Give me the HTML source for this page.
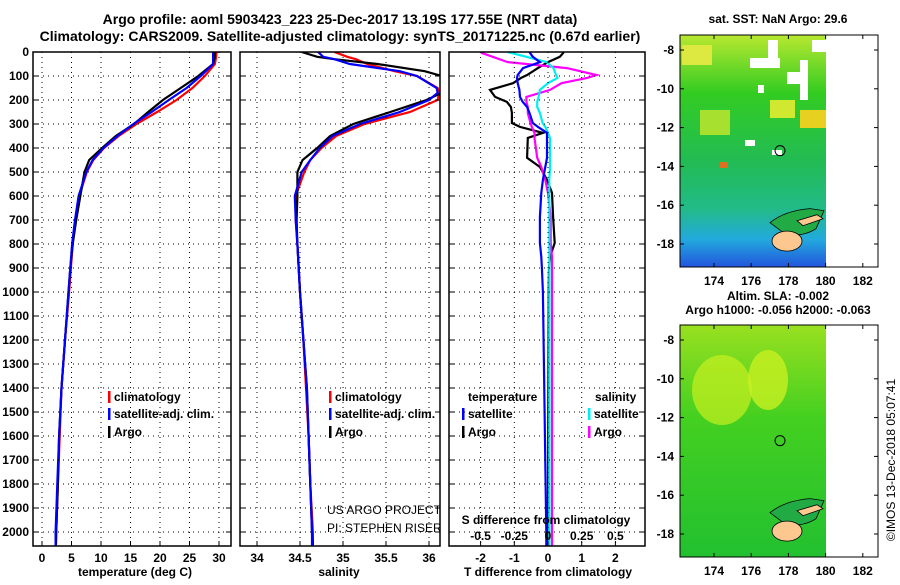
<!DOCTYPE html>
<html><head><meta charset="utf-8"><style>
body{margin:0;background:#fff}
svg text{font-family:"Liberation Sans",sans-serif;font-weight:bold;font-size:12px}
</style></head><body>
<svg id="c" width="900" height="580" viewBox="0 0 900 580" xmlns="http://www.w3.org/2000/svg">
<defs>
<linearGradient id="sstg" x1="0" y1="0" x2="0" y2="1">
<stop offset="0" stop-color="#b8e830"/><stop offset="0.25" stop-color="#33cc22"/><stop offset="0.55" stop-color="#22bb55"/><stop offset="0.75" stop-color="#22bb88"/><stop offset="0.88" stop-color="#22aadd"/><stop offset="1" stop-color="#2255dd"/></linearGradient>
<linearGradient id="slag" x1="0" y1="0" x2="0" y2="1">
<stop offset="0" stop-color="#99e020"/><stop offset="0.4" stop-color="#44d020"/><stop offset="1" stop-color="#22c030"/></linearGradient>
<clipPath id="clip0"><rect x="33" y="52" width="198" height="494"/></clipPath>
<clipPath id="clip1"><rect x="240" y="52" width="200" height="494"/></clipPath>
<clipPath id="clip2"><rect x="449" y="52" width="196" height="494"/></clipPath>
</defs>
<text x="340" y="24" text-anchor="middle" style="font-size:14px">Argo profile: aoml 5903423_223 25-Dec-2017 13.19S 177.55E (NRT data)</text>
<text x="340" y="41" text-anchor="middle" style="font-size:14px">Climatology: CARS2009. Satellite-adjusted climatology: synTS_20171225.nc (0.67d earlier)</text>
<g id="g"></g>
</svg>
<script>
// ---- data ----
const tDepth=[0,20,50,100,150,200,250,300,350,400,450,500,600,700,800,900,1000,1200,1400,1600,1800,2000,2060];
const tClim=[29.6,29.5,29.3,27.6,25.5,22.8,19.5,16,13,10.5,8.7,7.6,6.3,5.7,5.2,4.9,4.6,3.9,3.3,3.0,2.7,2.4,2.35];
const tSat=[29.0,29.0,29.0,26.9,24.5,21.5,18.6,15.5,12.8,10.4,8.6,7.5,6.2,5.6,5.1,4.8,4.5,3.9,3.3,2.9,2.6,2.3,2.3];
const tArgo=[29.3,29.3,29.0,26.5,23.5,20.5,18.0,15.6,12.5,10.2,8.0,7.2,6.5,5.8,5.2,4.8,4.5,3.9,3.3,2.9,2.7,2.4,2.35];
const sDepth=[0,20,30,50,80,100,150,170,200,250,300,350,400,450,500,600,700,800,1000,1200,1400,1600,1800,2000,2060];
const sClim=[34.9,35.05,35.15,35.28,35.6,35.86,36.1,36.12,36.1,35.78,35.25,34.92,34.75,34.62,34.55,34.45,34.45,34.47,34.5,34.54,34.57,34.6,34.62,34.65,34.65];
const sSat=[34.71,34.77,34.9,35.08,35.66,35.86,36.09,36.1,36.0,35.66,35.2,34.88,34.73,34.62,34.52,34.44,34.45,34.47,34.5,34.54,34.58,34.6,34.62,34.64,34.64];
const sArgo=[34.52,34.7,34.9,35.4,35.95,36.15,36.3,36.15,35.97,35.55,35.12,34.85,34.7,34.53,34.47,34.47,34.46,34.47,34.5,34.54,34.58,34.6,34.62,34.64,34.65];
const dDepth=[0,4,20,42,67,96,108,130,158,187,208,229,254,296,312,337,358,441,479,533,587,687,796,854,900,1000,1500,2000,2060];
const dTArgo=[0.45,0.45,0.35,0,-0.3,-0.62,-0.8,-1.04,-1.72,-1.57,-1.22,-1.1,-1.07,-1.07,-0.83,-0.15,-0.6,-0.62,-0.24,-0.03,0.12,0.15,0.2,0.06,0.03,0.02,0.01,0,0];
const dTSat=[-0.55,-0.53,-0.45,-0.24,-0.74,-0.9,-0.92,-0.9,-0.85,-0.83,-0.75,-0.62,-0.55,-0.45,-0.3,-0.03,-0.03,-0.03,-0.08,-0.15,-0.2,-0.24,-0.24,-0.2,-0.18,-0.15,-0.1,-0.05,-0.05];
const dSArgo=[-0.5,-0.49,-0.41,-0.3,0.14,0.36,0.29,0.1,0.015,-0.16,-0.16,-0.15,-0.15,-0.13,-0.12,-0.1,-0.1,-0.08,-0.05,-0.02,0.0,0.02,0.02,0.03,0.03,0.03,0.03,0.03,0.03];
const dSSat=[-0.3,-0.27,-0.16,-0.01,0.04,0.06,0.07,0.0,-0.06,-0.07,-0.08,-0.08,-0.06,-0.04,-0.02,0.0,0.015,0.015,0.015,0.01,0.01,0.01,0.01,0.01,0.01,0.01,0.01,0.01,0.01];
const depthTicks=[0,100,200,300,400,500,600,700,800,900,1000,1100,1200,1300,1400,1500,1600,1700,1800,1900,2000];
const tTicks=[0,5,10,15,20,25,30];
const sTicks=[34,34.5,35,35.5,36];
const dTicks=[-2,-1,0,1,2];
const dSTicks=["-0.5","-0.25","0","0.25","0.5"];
const latTicks=[-8,-10,-12,-14,-16,-18];
const lonTicks=[174,176,178,180,182];

const NS='http://www.w3.org/2000/svg';
const G=document.getElementById('g');
function el(t,a,p){const e=document.createElementNS(NS,t);for(const k in a)e.setAttribute(k,a[k]);(p||G).appendChild(e);return e;}
function txt(x,y,s,anchor,p){const e=el('text',{x:x,y:y,'text-anchor':anchor||'start'},p);e.textContent=s;return e;}
const Y=d=>52+d*0.24;
const yTop=52,yBot=546;
const panels=[
 {l:33,r:231,x:v=>42+v*177/30,name:'temperature'},
 {l:240,r:440,x:v=>257+(v-34)*86,name:'salinity'},
 {l:449,r:645,x:v=>548+v*33.7,name:'difference'}];
const xS=v=>548+v*134.8;
const clipG=[0,1,2].map(i=>el('g',{'clip-path':'url(#clip'+i+')'}));
panels.forEach((p,i)=>{
 const g=el('g',{});
 
 
 depthTicks.forEach(d=>{if(d>0){el('line',{x1:p.l,x2:p.r,y1:Y(d),y2:Y(d),stroke:'#000','stroke-dasharray':'1,4'},g);}
  el('line',{x1:p.l,x2:p.l+5,y1:Y(d),y2:Y(d),stroke:'#000'},g);el('line',{x1:p.r-5,x2:p.r,y1:Y(d),y2:Y(d),stroke:'#000'},g);});
 const ticks=i==0?tTicks:i==1?sTicks:dTicks;
 ticks.forEach(t=>{const x=p.x(t);el('line',{x1:x,x2:x,y1:yTop,y2:yBot,stroke:'#000','stroke-dasharray':'1,4'},g);
  el('line',{x1:x,x2:x,y1:yBot-5,y2:yBot,stroke:'#000'},g);
  const tl=txt(x,562,String(t),'middle',g);
  
  });
 el('rect',{x:p.l,y:yTop,width:p.r-p.l,height:yBot-yTop,fill:'none',stroke:'#000','stroke-width':1.5},g);
});
depthTicks.forEach(d=>{const t=txt(29,Y(d)+4,String(d),'end');
 
 });
[['temperature (deg C)',135],['salinity',339],['T difference from climatology',548]].forEach(a=>{const t=txt(a[1],576,a[0],'middle');
 
 });
function line(dep,vals,xf,col,name,pi){const pts=dep.map((d,i)=>xf(vals[i]).toFixed(1)+','+Y(d).toFixed(1)).join(' ');
 const e=el('polyline',{points:pts,fill:'none',stroke:col,'stroke-width':2.2},clipG[pi]);
 
 }
line(tDepth,tClim,panels[0].x,'#f00','temp-climatology-line',0);
line(tDepth,tArgo,panels[0].x,'#000','temp-argo-line',0);
line(tDepth,tSat,panels[0].x,'#00f','temp-satellite-line',0);
line(sDepth,sClim,panels[1].x,'#f00','sal-climatology-line',1);
line(sDepth,sArgo,panels[1].x,'#000','sal-argo-line',1);
line(sDepth,sSat,panels[1].x,'#00f','sal-satellite-line',1);
line(dDepth,dTArgo,panels[2].x,'#000','tdiff-argo-line',2);
line(dDepth,dSArgo,xS,'#f0f','sdiff-argo-line',2);
line(dDepth,dSSat,xS,'#0ee','sdiff-satellite-line',2);
line(dDepth,dTSat,panels[2].x,'#00f','tdiff-satellite-line',2);
function leg(x,y,col,s){el('rect',{x:x,y:y-10,width:2.5,height:12,fill:col});const t=txt(x+6,y,s);
 
 }
[[108,401],[329,401]].forEach(p=>{leg(p[0],p[1],'#f00','climatology');leg(p[0],p[1]+17,'#00f','satellite-adj. clim.');leg(p[0],p[1]+35,'#000','Argo');});
txt(468,401,'temperature');txt(595,401,'salinity');
leg(462,418,'#00f','satellite');leg(462,436,'#000','Argo');
leg(588,418,'#0ee','satellite');leg(588,436,'#f0f','Argo');
const c1=txt(327,514,'US ARGO PROJECT',null,clipG[1]);c1.setAttribute('style','font-weight:normal;font-size:12px');
const c2=txt(327,532,'PI: STEPHEN RISER',null,clipG[1]);c2.setAttribute('style','font-weight:normal;font-size:12px');
txt(546,524,'S difference from climatology','middle');
dSTicks.forEach((s,i)=>txt(xS(Number(s)),540,s,'middle'));
const lonX=v=>714+(v-174)*18.6;
function map(y0,fillId,title1,title2,name){
 const g=el('g',{});
 
 
 const latY=v=>y0+15+(-8-v)*19.4;
 el('rect',{x:680,y:y0,width:146,height:232,fill:'url(#'+fillId+')'},g);
 if(fillId=='sstg'){
  [[768,40,10,18],[750,58,30,10],[787,72,16,12],[800,60,8,40],[758,85,6,8],[745,140,10,6],[772,150,10,5],[812,40,14,12],[826,35,52,232]].forEach(r=>el('rect',{x:r[0],y:r[1],width:r[2],height:r[3],fill:'#fff'},g));
  [[800,110,26,18,'#e8d020'],[682,45,30,20,'#dde840'],[720,162,8,6,'#e07020'],[770,100,25,18,'#d0e830'],[700,110,30,25,'#a8e030']].forEach(r=>el('rect',{x:r[0],y:r[1],width:r[2],height:r[3],fill:r[4]},g));
 } else {
  el('rect',{x:826,y:y0,width:52,height:232,fill:'#fff'},g);
  el('ellipse',{cx:722,cy:y0+65,rx:30,ry:35,fill:'#c8f020',opacity:0.7},g);
  el('ellipse',{cx:768,cy:y0+55,rx:20,ry:30,fill:'#c8f020',opacity:0.8},g);
 }
 el('path',{d:`M770 ${latY(-16.9)} q15 -12 40 -14 l14 2 l-8 18 q-12 8 -30 6 z`,fill:'#22aa44',stroke:'#000','stroke-width':0.8},g);
 el('ellipse',{cx:787,cy:latY(-17.85),rx:15,ry:10,fill:'#fcc890',stroke:'#000','stroke-width':0.8},g);
 el('path',{d:`M797 ${latY(-16.8)} l20 -6 l6 4 l-20 7 z`,fill:'#fcc890',stroke:'#000','stroke-width':0.8},g);
 el('circle',{cx:lonX(177.55),cy:latY(-13.19),r:5,fill:'none',stroke:'#000','stroke-width':1},g);
 el('rect',{x:680,y:y0,width:198,height:232,fill:'none',stroke:'#000','stroke-width':1},g);
 latTicks.forEach(v=>{const y=latY(v);el('line',{x1:680,x2:684,y1:y,y2:y,stroke:'#000'},g);el('line',{x1:874,x2:878,y1:y,y2:y,stroke:'#000'},g);txt(674,y+4,String(v),'end',g);});
 lonTicks.forEach(v=>{const x=lonX(v);el('line',{x1:x,x2:x,y1:y0,y2:y0+4,stroke:'#000'},g);el('line',{x1:x,x2:x,y1:y0+228,y2:y0+232,stroke:'#000'},g);txt(x,y0+250,String(v),'middle',g);});
 txt(778,y0-12+(title2?-13:0),title1,'middle',g);
 if(title2)txt(778,y0-11,title2,'middle',g);
}
map(35,'sstg','sat. SST: NaN Argo: 29.6',null,'sst-map');
map(325,'slag','Altim. SLA: -0.002','Argo h1000: -0.056 h2000: -0.063','sla-map');
const ft=txt(0,0,'©IMOS 13-Dec-2018 05:07:41','middle');
ft.setAttribute('transform','translate(895,460) rotate(-90)');
ft.setAttribute('style','font-weight:normal;font-size:12px');


</script>
</body></html>
